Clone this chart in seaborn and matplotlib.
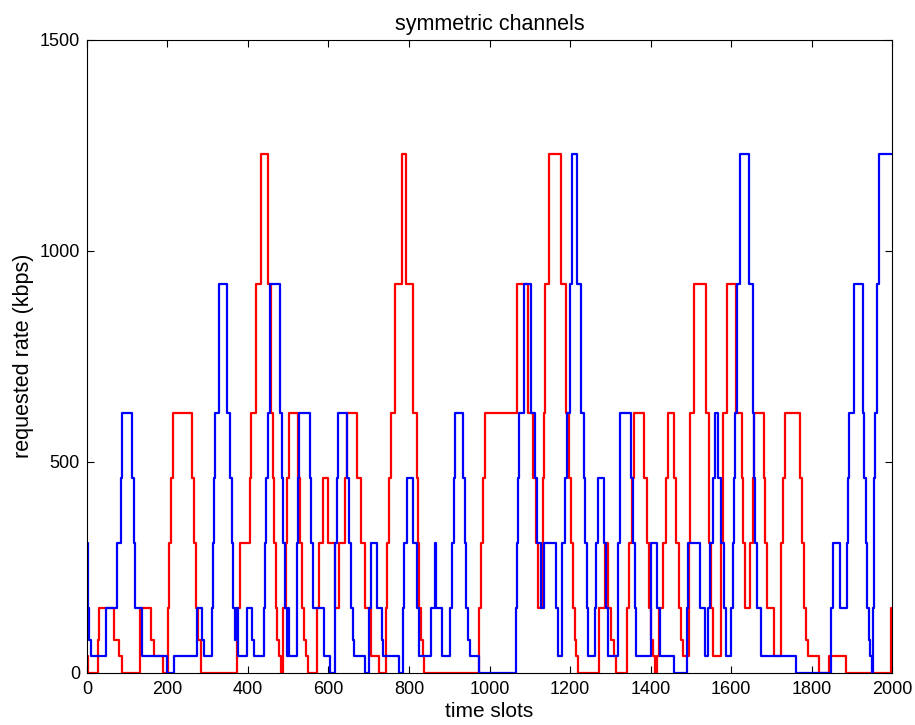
import matplotlib
matplotlib.use("Agg")
import matplotlib.pyplot as plt
import seaborn as sb

# rate levels (kbps) used by both channels
L0, L1, L2, L3, L4, L5, L6, L7, L8 = 0, 38.4, 76.8, 153.6, 307.2, 460.8, 614.4, 921.6, 1228.8

# blue channel: slot where the rate changes, and the new rate
blue_t = [0, 2, 6, 10, 47, 74, 84, 88, 113, 116, 120, 137, 198, 217, 273, 285, 292,
          311, 313, 316, 319, 327, 348, 356, 360, 363, 368, 371, 375, 397, 409, 414,
          440, 443, 446, 449, 455, 480, 485, 488, 491, 496, 499, 503, 523, 525, 527,
          554, 557, 562, 589, 603, 617, 621, 624, 647, 650, 655, 660, 664, 690, 700,
          706, 720, 732, 736, 776, 784, 788, 796, 809, 821, 826, 855, 865, 868, 882,
          903, 908, 912, 915, 934, 938, 942, 947, 952, 975, 1065, 1068, 1070, 1072,
          1086, 1102, 1113, 1117, 1127, 1135, 1164, 1170, 1179, 1181, 1187, 1193,
          1199, 1206, 1218, 1227, 1235, 1238, 1241, 1244, 1262, 1265, 1269, 1284,
          1289, 1294, 1318, 1320, 1323, 1325, 1352, 1357, 1361, 1365, 1400, 1402,
          1415, 1423, 1457, 1490, 1493, 1523, 1535, 1542, 1547, 1554, 1559, 1568,
          1574, 1582, 1588, 1601, 1604, 1607, 1610, 1614, 1621, 1644, 1654, 1656,
          1660, 1665, 1675, 1761, 1848, 1852, 1871, 1888, 1891, 1894, 1905, 1927,
          1931, 1935, 1938, 1942, 1945, 1949, 1952, 1954, 1956, 1958, 1962, 1968, 2000]
blue_v = [L4, L3, L2, L1, L3, L4, L5, L6, L5, L4, L3, L1, L0, L1, L3, L2, L1,
          L3, L4, L5, L6, L7, L6, L5, L4, L3, L2, L3, L1, L3, L2, L1,
          L3, L4, L5, L6, L7, L6, L5, L4, L3, L1, L3, L1, L4, L5, L6,
          L5, L4, L3, L1, L0, L4, L5, L6, L5, L4, L3, L2, L1, L0, L3,
          L4, L3, L2, L1, L0, L3, L4, L5, L4, L3, L1, L3, L4, L3, L1,
          L3, L4, L5, L6, L5, L4, L3, L2, L1, L0, L3, L4, L5, L6,
          L7, L6, L5, L4, L3, L4, L3, L1, L3, L4, L5, L6,
          L7, L8, L7, L6, L5, L4, L3, L1, L3, L4, L5, L4,
          L3, L1, L3, L4, L5, L6, L5, L4, L3, L1, L3, L4,
          L3, L1, L0, L3, L4, L3, L1, L3, L4, L5, L6, L5,
          L4, L3, L1, L3, L4, L5, L6, L7, L8, L7, L6, L5,
          L4, L3, L1, L0, L3, L4, L3, L4, L5, L6, L7, L6,
          L5, L4, L3, L2, L1, L0, L3, L4, L5, L6, L7, L8, L8]

# red channel
red_t = [0, 2, 27, 31, 68, 80, 88, 131, 160, 167, 189, 202, 205, 208, 215, 261, 265,
         270, 276, 283, 372, 381, 405, 407, 419, 432, 451, 457, 461, 465, 469, 473,
         477, 483, 488, 494, 498, 502, 525, 529, 533, 539, 545, 548, 572, 577, 587,
         598, 616, 626, 640, 647, 672, 682, 691, 706, 725, 742, 745, 750, 755, 765,
         783, 792, 809, 819, 823, 826, 830, 834, 837, 974, 980, 984, 988, 1069,
         1095, 1107, 1115, 1120, 1131, 1133, 1135, 1138, 1148, 1178, 1191, 1197,
         1202, 1207, 1212, 1216, 1219, 1273, 1286, 1294, 1302, 1309, 1315, 1341,
         1347, 1355, 1358, 1384, 1390, 1396, 1401, 1406, 1411, 1416, 1421, 1430,
         1438, 1443, 1458, 1464, 1471, 1476, 1481, 1495, 1497, 1499, 1508, 1537,
         1546, 1551, 1556, 1575, 1580, 1591, 1613, 1627, 1630, 1635, 1647, 1654,
         1656, 1682, 1685, 1690, 1707, 1723, 1725, 1729, 1733, 1771, 1775, 1780,
         1785, 1790, 1818, 1842, 1885, 1997, 2000]
red_v = [L1, L0, L2, L3, L2, L1, L0, L3, L2, L1, L0, L3, L4, L5, L6, L5, L4,
         L3, L2, L0, L3, L4, L5, L6, L7, L8, L7, L6, L5, L4, L3, L2,
         L1, L0, L3, L4, L5, L6, L5, L4, L3, L2, L1, L0, L3, L4, L5,
         L4, L3, L4, L5, L6, L5, L4, L3, L1, L0, L3, L4, L5, L6, L7,
         L8, L7, L6, L5, L4, L3, L2, L1, L0, L3, L4, L5, L6, L7,
         L6, L5, L4, L3, L4, L5, L6, L7, L8, L7, L6, L5,
         L4, L3, L2, L1, L0, L3, L4, L3, L2, L1, L0, L3,
         L4, L5, L6, L5, L4, L3, L2, L1, L0, L1, L3, L4,
         L5, L6, L5, L4, L3, L2, L1, L4, L5, L6, L7, L6,
         L4, L3, L1, L4, L6, L7, L6, L5, L4, L3, L4, L5,
         L6, L5, L4, L3, L1, L3, L4, L5, L6, L5, L4, L3,
         L2, L1, L0, L1, L0, L3, L3]

x_ticks = list(range(0, 2001, 200))
y_ticks = [0, 500, 1000, 1500]

sb.set_style("ticks")
plt.rcParams['font.family'] = ['Liberation Sans', 'DejaVu Sans']
plt.rcParams['text.color'] = 'black'
plt.rcParams['axes.labelcolor'] = 'black'

fig = plt.figure(figsize=(9.15, 7.25), dpi=100)
ax = fig.add_axes([0.095, 0.0724, 0.88, 0.8731])

sb.lineplot(x=red_t, y=red_v, ax=ax, color='#ff0000', lw=1.6,
            drawstyle='steps-post', estimator=None, sort=False)
sb.lineplot(x=blue_t, y=blue_v, ax=ax, color='#0000ff', lw=1.6,
            drawstyle='steps-post', estimator=None, sort=False)

ax.set_xlim(0, 2000)
ax.set_ylim(0, 1500)
ax.set_xticks(x_ticks)
ax.set_yticks(y_ticks)
ax.tick_params(direction='in', top=True, right=True, length=5, width=0.8,
               labelsize=13, colors='black')
ax.tick_params(axis='x', pad=6)
ax.tick_params(axis='y', pad=5)
for s in ax.spines.values():
    s.set_visible(True)
    s.set_linewidth(0.8)
    s.set_color('black')
ax.set_title("symmetric channels", fontsize=15.5, pad=7, color='black')
ax.set_xlabel("time slots", fontsize=15, labelpad=3)
ax.set_ylabel("requested rate (kbps)", fontsize=15.5, labelpad=4)

fig.savefig("out.png", dpi=100)
